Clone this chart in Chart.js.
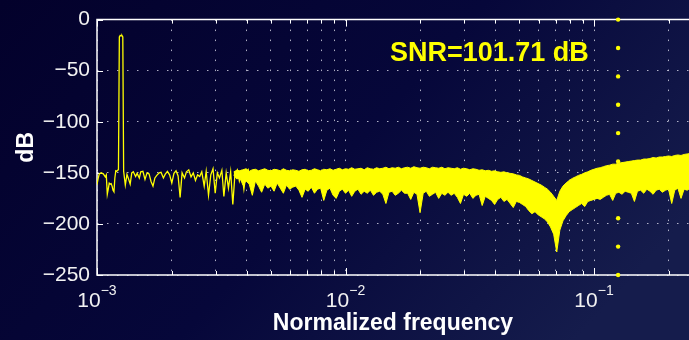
<!DOCTYPE html>
<html>
<head>
<meta charset="utf-8">
<title>Espectro SNR</title>
<script src="https://cdn.jsdelivr.net/npm/chart.js@4.4.1/dist/chart.umd.min.js"></script>
<style>
  html, body { margin: 0; padding: 0; overflow: hidden; background: #05053a; }
  canvas { display: block; }
</style>
</head>
<body>
<canvas id="grafica-espectro" width="689" height="340"></canvas>
<script>
// ============================================================
// Espectro de salida (dB) frente a frecuencia normalizada,
// estilo figura MATLAB: fondo azul oscuro, traza amarilla.
// ============================================================

// ── Tramo de baja frecuencia: línea individual con el tono ──
const freqBaja = [
  0.00100, 0.00101, 0.00102, 0.00103, 0.00104, 0.00105, 0.00106, 0.00107, 0.00108, 0.00109,
  0.00110, 0.00111, 0.00112, 0.00113, 0.00114, 0.00115, 0.00116, 0.00117, 0.00118, 0.00119,
  0.00120, 0.00121, 0.00122, 0.00123, 0.00124, 0.00125, 0.00126, 0.00127, 0.00128, 0.00130,
  0.00132, 0.00134, 0.00136, 0.00138, 0.00140, 0.00143, 0.00145, 0.00148, 0.00150, 0.00153,
  0.00156, 0.00159, 0.00162, 0.00165, 0.00168, 0.00171, 0.00174, 0.00178, 0.00181, 0.00185,
  0.00188, 0.00192, 0.00196, 0.00200, 0.00204, 0.00208, 0.00212, 0.00216, 0.00220, 0.00225,
  0.00229, 0.00234, 0.00239, 0.00244, 0.00249, 0.00254, 0.00259, 0.00264, 0.00270, 0.00275,
  0.00281, 0.00287, 0.00293, 0.00299, 0.00305, 0.00311, 0.00318, 0.00324, 0.00331, 0.00338,
  0.00345, 0.00352, 0.00359, 0.00367, 0.00374, 0.00382, 0.00390, 0.00398, 0.00406, 0.00414
];
const dbBaja = [
  -161.5, -156, -151.5, -150.5, -150, -150.5, -151, -152.5, -154, -152,
  -171, -166, -160, -161, -160.5, -163, -167, -168.5, -155, -148,
  -148.5, -147.5, -147, -17, -15.5, -16, -15.5, -17, -148.5, -162,
  -151.5, -156, -161, -150, -149, -153.5, -150.5, -155, -149, -148.5,
  -156.5, -150, -151, -158.5, -163, -155, -152.5, -150, -149.5, -155,
  -151.5, -148.5, -152, -160, -150.5, -148, -153, -174, -150, -155,
  -149, -147, -154, -150, -157.5, -152, -153.5, -149, -163, -148.5,
  -172, -152, -146, -170, -150, -155, -147.5, -173, -150, -165,
  -149, -181, -151, -147, -158, -149.5, -166, -150, -147, -160
];

// ── Tramo denso: envolvente superior e inferior del ruido ──
const freqBanda = [
  0.003548, 0.003652, 0.003758, 0.003868, 0.003981, 0.004097, 0.004217, 0.004340, 0.004467, 0.004597,
  0.004732, 0.004870, 0.005012, 0.005158, 0.005309, 0.005464, 0.005623, 0.005788, 0.005957, 0.006131,
  0.006310, 0.006494, 0.006683, 0.006879, 0.007079, 0.007286, 0.007499, 0.007718, 0.007943, 0.008175,
  0.008414, 0.008660, 0.008913, 0.009173, 0.009441, 0.009716, 0.01000, 0.01029, 0.01059, 0.01090,
  0.01122, 0.01155, 0.01189, 0.01223, 0.01259, 0.01296, 0.01334, 0.01373, 0.01413, 0.01454,
  0.01496, 0.01540, 0.01585, 0.01631, 0.01679, 0.01728, 0.01778, 0.01830, 0.01884, 0.01939,
  0.01995, 0.02054, 0.02113, 0.02175, 0.02239, 0.02304, 0.02371, 0.02441, 0.02512, 0.02585,
  0.02661, 0.02738, 0.02818, 0.02901, 0.02985, 0.03073, 0.03162, 0.03255, 0.03350, 0.03447,
  0.03548, 0.03652, 0.03758, 0.03868, 0.03981, 0.04097, 0.04217, 0.04340, 0.04467, 0.04597,
  0.04732, 0.04870, 0.05012, 0.05158, 0.05309, 0.05464, 0.05623, 0.05788, 0.05957, 0.06131,
  0.06310, 0.06494, 0.06683, 0.06879, 0.07079, 0.07286, 0.07499, 0.07718, 0.07943, 0.08175,
  0.08414, 0.08660, 0.08913, 0.09173, 0.09441, 0.09716, 0.1000, 0.1029, 0.1059, 0.1090,
  0.1122, 0.1155, 0.1189, 0.1223, 0.1259, 0.1296, 0.1334, 0.1373, 0.1413, 0.1454,
  0.1496, 0.1540, 0.1585, 0.1631, 0.1679, 0.1728, 0.1778, 0.1830, 0.1884, 0.1939,
  0.1995, 0.2054, 0.2113, 0.2175, 0.2239, 0.2304, 0.2371, 0.2441
];
const dbSuperior = [
  -149, -147.5, -148, -147, -146, -148.5, -147, -146.5, -148, -147,
  -146, -147.5, -148, -146.5, -147, -148, -146, -147.5, -148, -147,
  -147.5, -148.5, -147, -146.5, -148, -147.5, -146, -147, -148, -146.5,
  -147, -146, -147.5, -146.5, -145.5, -147, -146, -146.5, -145, -146.5,
  -146, -145.5, -147, -145, -146, -146.5, -145, -146, -145.5, -144.5,
  -146, -145, -145.5, -144.5, -146, -145, -144.5, -145.5, -144, -145,
  -145.5, -144.5, -145, -146, -144.5, -145, -145.5, -144.5, -146, -145,
  -145.5, -146, -145, -146.5, -145.5, -146, -147, -146, -146.5, -147.5,
  -147, -148, -147.5, -148.5, -148, -149, -149.5, -149, -150, -150.5,
  -151, -152, -152.5, -154, -155, -156, -157.5, -159, -160.5, -162,
  -164, -166, -169, -173, -177, -168, -163, -160, -157.5, -155.5,
  -154, -152.5, -151.5, -150, -149, -147.5, -146.5, -145.5, -145, -144,
  -143, -142.5, -141.5, -141.5, -140.5, -140, -139.5, -139, -138.5, -138,
  -137.5, -137.5, -136.5, -136.5, -136, -135, -135.5, -134.5, -134.5, -134,
  -133.5, -134, -133, -132.5, -133, -132, -131.5, -131
];
const dbInferior = [
  -152, -156, -155, -162, -158, -161, -172, -158, -163, -169,
  -161, -165, -163, -168, -160, -165, -170, -162, -166, -164,
  -163, -167, -174, -166, -168, -164, -170, -166, -165, -177,
  -167, -165, -172, -175, -168, -166, -170, -167, -173, -168,
  -166, -171, -168, -170, -167, -172, -169, -168, -171, -180,
  -169, -168, -172, -170, -167, -170, -170, -176, -169, -171,
  -189, -170, -168, -173, -171, -169, -175, -170, -172, -169,
  -172, -170, -174, -180, -171, -173, -170, -175, -172, -171,
  -182, -173, -175, -177, -181, -176, -174, -178, -176, -180,
  -184, -178, -179, -181, -183, -187, -190, -188, -191, -193,
  -195, -198, -203, -210, -227.5, -206, -197, -192, -188, -186,
  -184, -182, -180, -183, -178, -177, -176, -175, -176, -174,
  -172, -171, -177, -170, -169, -171, -168, -169, -170, -178,
  -168, -167, -170, -166, -168, -171, -167, -166, -169, -167,
  -166, -180, -167, -165, -175, -166, -167, -165
];

// ── Línea punteada vertical (borde de banda) ──
const freqMarca = 0.125;
const dbMarca = [0, -27.8, -55.6, -83.3, -111.1, -138.9, -166.7, -194.4, -222.2, -250];

// ── Ejes ──
const ticksX = [
  0.001, 0.002, 0.003, 0.004, 0.005, 0.006, 0.007, 0.008, 0.009,
  0.01, 0.02, 0.03, 0.04, 0.05, 0.06, 0.07, 0.08, 0.09,
  0.1, 0.2
];
const decadas = [0.001, 0.01, 0.1];
const exponentes = ["\u22123", "\u22122", "\u22121"];
const textoSNR = "SNR=101.71 dB";

const AMARILLO = "#ffff00";
const BLANCO   = "#ffffff";
const REJILLA  = "rgba(215,215,230,0.8)";
const FUENTE   = '"Liberation Sans", Arial, Helvetica, sans-serif';

const puntos = (xs, ys) => xs.map((f, i) => ({ x: f, y: ys[i] }));

// ── Plugin: fondo degradado, marco blanco, etiquetas 10^n y texto SNR ──
const estiloMatlab = {
  id: "estiloMatlab",
  beforeDraw(chart) {
    const { ctx, width, height } = chart;
    const g = ctx.createLinearGradient(0, 0, width * 0.7, height * 1.3);
    g.addColorStop(0, "#03012b");
    g.addColorStop(0.55, "#06073a");
    g.addColorStop(1, "#151c4c");
    ctx.save();
    ctx.fillStyle = g;
    ctx.fillRect(0, 0, width, height);
    ctx.restore();
  },
  beforeDatasetsDraw(chart) {
    const { ctx, chartArea: a, scales: { x, y } } = chart;
    ctx.save();
    ctx.strokeStyle = BLANCO;
    ctx.lineWidth = 1;
    ctx.beginPath();
    ticksX.forEach((v) => {
      const px = Math.round(x.getPixelForValue(v)) + 0.5;
      const largo = decadas.includes(v) ? 7 : 4;
      ctx.moveTo(px, a.bottom); ctx.lineTo(px, a.bottom - largo);
      ctx.moveTo(px, a.top);    ctx.lineTo(px, a.top + largo);
    });
    y.ticks.forEach((t) => {
      const py = Math.round(y.getPixelForValue(t.value)) + 0.5;
      ctx.moveTo(a.left, py); ctx.lineTo(a.left + 6, py);
    });
    ctx.stroke();

    ctx.lineWidth = 1.5;
    ctx.beginPath();
    ctx.moveTo(a.right + 5, a.top);
    ctx.lineTo(a.left, a.top);
    ctx.lineTo(a.left, a.bottom);
    ctx.lineTo(a.right + 5, a.bottom);
    ctx.stroke();
    ctx.restore();
  },
  afterDraw(chart) {
    const { ctx, scales: { x, y } } = chart;
    ctx.save();
    ctx.fillStyle = "#f2f2f2";
    ctx.textBaseline = "alphabetic";
    decadas.forEach((v, i) => {
      const px = x.getPixelForValue(v);
      ctx.font = `21px ${FUENTE}`;
      const anchoBase = ctx.measureText("10").width;
      ctx.font = `14px ${FUENTE}`;
      const anchoExp = ctx.measureText(exponentes[i]).width;
      const inicio = px - (anchoBase + anchoExp) / 2;
      ctx.font = `21px ${FUENTE}`;
      ctx.fillText("10", inicio, 306.5);
      ctx.font = `14px ${FUENTE}`;
      ctx.fillText(exponentes[i], inicio + anchoBase, 295);
    });

    ctx.fillStyle = AMARILLO;
    ctx.font = `bold 27px ${FUENTE}`;
    ctx.fillText(textoSNR, x.getPixelForValue(0.0151), y.getPixelForValue(-40.5));
    ctx.restore();
  }
};

new Chart(document.getElementById("grafica-espectro"), {
  type: "line",
  data: {
    datasets: [
      { data: puntos(freqBaja, dbBaja), borderColor: AMARILLO, borderWidth: 1.3, pointRadius: 0, fill: false },
      { data: puntos(freqBanda, dbSuperior), borderColor: AMARILLO, borderWidth: 1, pointRadius: 0, fill: false },
      { data: puntos(freqBanda, dbInferior), borderColor: AMARILLO, borderWidth: 1, pointRadius: 0,
        fill: "-1", backgroundColor: AMARILLO },
      { data: dbMarca.map((v) => ({ x: freqMarca, y: v })), showLine: false, pointRadius: 2.2,
        pointBackgroundColor: AMARILLO, pointBorderWidth: 0, clip: false }
    ]
  },
  options: {
    responsive: false,
    animation: false,
    layout: { autoPadding: false, padding: { top: 16, right: 0, bottom: 0, left: 0 } },
    plugins: { legend: { display: false }, tooltip: { enabled: false } },
    scales: {
      x: {
        type: "logarithmic",
        min: 0.001,
        max: 0.2411,
        afterBuildTicks: (s) => { s.ticks = ticksX.map((v) => ({ value: v })); },
        afterFit: (s) => { s.height = 65; },
        ticks: { display: false },
        grid: { color: REJILLA, lineWidth: 1, drawTicks: false },
        border: { display: false, dash: [1.5, 8.5] },
        title: {
          display: true, text: "Normalized frequency", color: BLANCO,
          font: { family: FUENTE, size: 23, weight: "bold" }, padding: { top: 0, bottom: 3 }
        }
      },
      y: {
        min: -250,
        max: 0,
        afterFit: (s) => { s.width = 97; },
        ticks: {
          stepSize: 50, color: "#f2f2f2", padding: 7,
          font: { family: FUENTE, size: 21 },
          callback: (v) => String(v).replace("-", "\u2212")
        },
        grid: { color: REJILLA, lineWidth: 1, drawTicks: false },
        border: { display: false, dash: [1.5, 8.5] },
        title: {
          display: true, text: "dB", color: BLANCO,
          font: { family: FUENTE, size: 23, weight: "bold" }, padding: { top: 13, bottom: 0 }
        }
      }
    }
  },
  plugins: [estiloMatlab]
});
</script>
</body>
</html>
